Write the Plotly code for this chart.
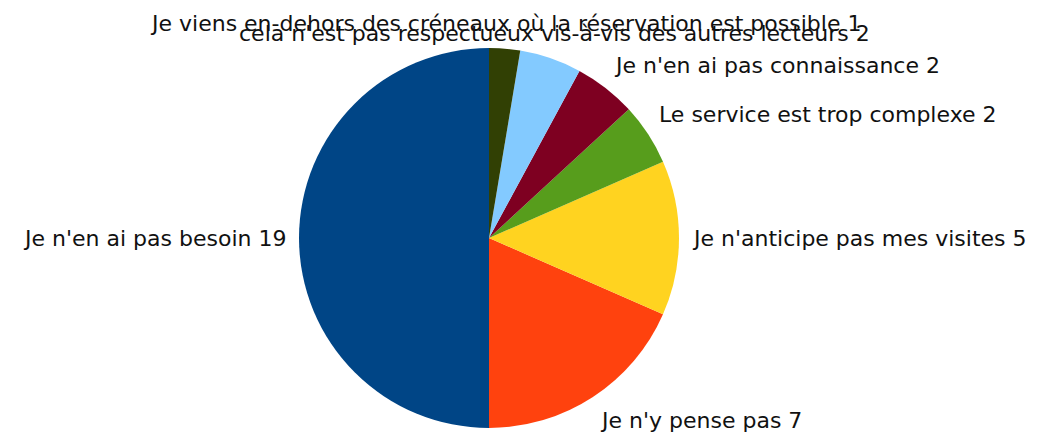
import math
import plotly.graph_objects as go

labels = [
    "Je n'en ai pas besoin",
    "Je n'y pense pas",
    "Je n'anticipe pas mes visites",
    "Le service est trop complexe",
    "Je n'en ai pas connaissance",
    "cela n'est pas respectueux vis-à-vis des autres lecteurs",
    "Je viens en-dehors des créneaux où la réservation est possible",
]
values = [19, 7, 5, 2, 2, 2, 1]
colors = ["#004586", "#FF420E", "#FFD320", "#579D1C", "#7E0021", "#83CAFF", "#314004"]

W, H = 1038, 435
# the page body adds an 8px margin, so place the pie 8px up/left
cx, cy, R = 481, 230, 190
label_r = R * 1.063

total = sum(values)
# plotly ends the first counterclockwise slice at the rotation angle;
# shift so that the first slice starts at 12 o'clock
rotation = 360 - values[0] / total * 360

fig = go.Figure(go.Pie(
    labels=labels, values=values, sort=False, direction="counterclockwise",
    rotation=rotation, marker=dict(colors=colors, line=dict(width=0)),
    textinfo="none", hoverinfo="label+value", showlegend=False,
    domain=dict(x=[(cx - R) / W, (cx + R) / W], y=[1 - (cy + R) / H, 1 - (cy - R) / H]),
))

cum = 0
annotations = []
for lab, v in zip(labels, values):
    mid_ccw = (cum + v / 2) / total * 2 * math.pi
    cum += v
    s = -math.sin(mid_ccw)  # x direction (counterclockwise from top)
    c = math.cos(mid_ccw)   # up direction
    px = cx + label_r * s
    py = cy - label_r * c
    xa = "center" if abs(s) < 0.4 else ("left" if s > 0 else "right")
    ya = "middle" if abs(c) < 0.4 else ("bottom" if c > 0 else "top")
    annotations.append(dict(
        x=px / W, y=1 - py / H, xref="paper", yref="paper",
        text=f"{lab} {v}", showarrow=False, xanchor=xa, yanchor=ya,
        font=dict(family="DejaVu Sans", size=22, color="#111111"),
        borderpad=0,
    ))

fig.update_layout(
    width=W, height=H, margin=dict(l=0, r=0, t=0, b=0),
    paper_bgcolor="white", plot_bgcolor="white",
    annotations=annotations,
)
fig.write_html("out.html")
